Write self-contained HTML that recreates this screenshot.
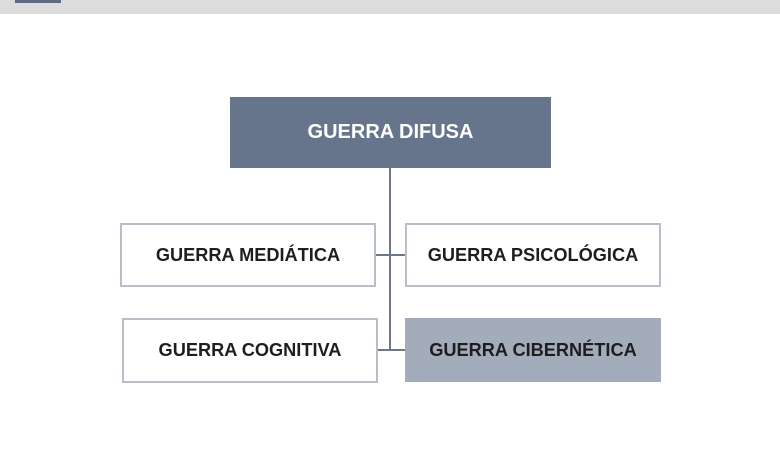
<!DOCTYPE html>
<html><head><meta charset="utf-8"><style>
body{margin:0;width:780px;height:470px;background:#fff;position:relative;overflow:hidden;font-family:"Liberation Sans",Arial,sans-serif}
.b{position:absolute;box-sizing:border-box;display:flex;align-items:center;justify-content:center;font-weight:bold;font-size:18.2px;color:#1e1e1e}
.w{background:#fff;border:2px solid #b9bfc9}
.l{position:absolute;background:#6e7786}
</style></head><body>
<div style="position:absolute;left:0;top:0;width:780px;height:14px;background:#dcdcdc"></div>
<div style="position:absolute;left:15px;top:0;width:46px;height:3px;background:#5e6b82"></div>
<div class="l" style="left:389px;top:168px;width:2px;height:183px"></div>
<div class="l" style="left:375px;top:254px;width:30px;height:2px"></div>
<div class="l" style="left:377px;top:349px;width:28px;height:2px"></div>
<div class="b" style="left:230px;top:97px;width:321px;height:71px;background:#66758b;color:#fff;font-size:20px">GUERRA DIFUSA</div>
<div class="b w" style="left:120px;top:223px;width:256px;height:64px">GUERRA MEDIÁTICA</div>
<div class="b w" style="left:405px;top:223px;width:256px;height:64px">GUERRA PSICOLÓGICA</div>
<div class="b w" style="left:122px;top:318px;width:256px;height:65px">GUERRA COGNITIVA</div>
<div class="b" style="left:405px;top:318px;width:256px;height:64px;background:#a3acba">GUERRA CIBERNÉTICA</div>
</body></html>
